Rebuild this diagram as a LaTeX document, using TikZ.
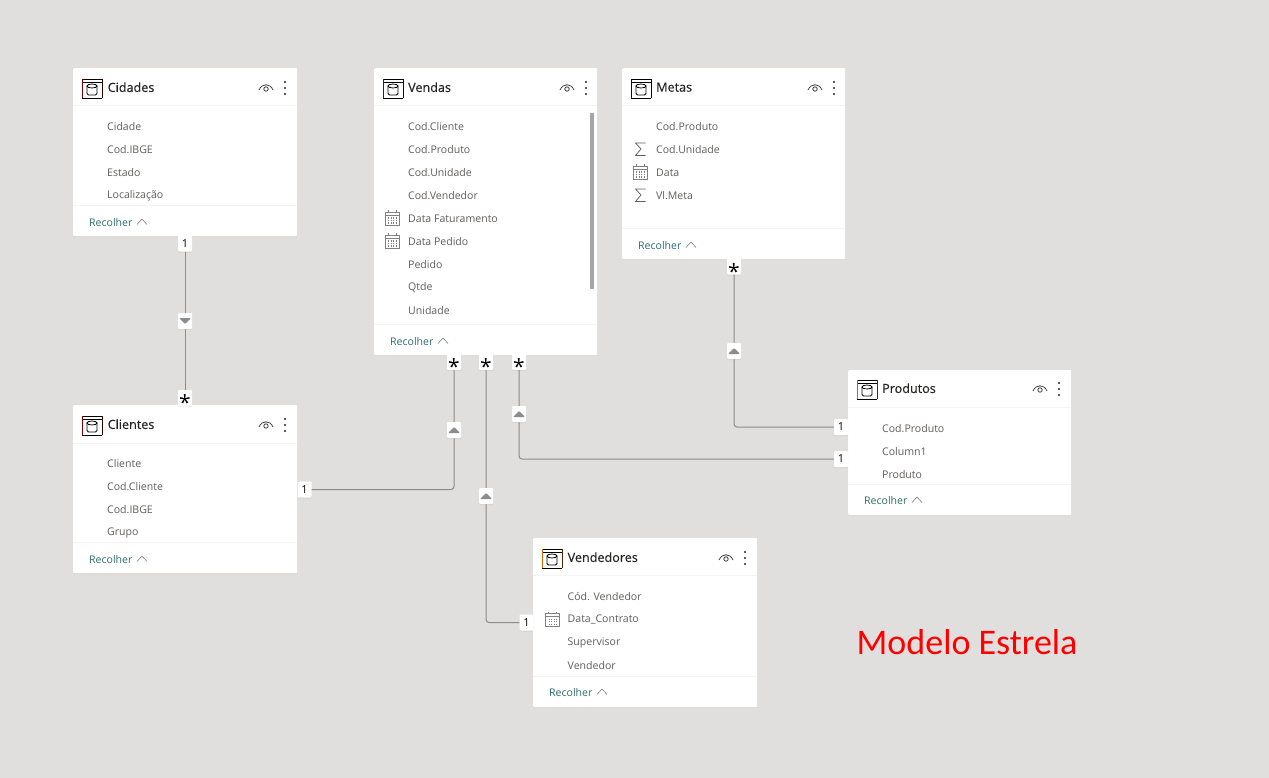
\documentclass[tikz,border=0pt]{standalone}
\usepackage{fontspec}
\setmainfont{Open Sans}
\newfontfamily\titlefont[FakeBold=0.3]{Open Sans}
\newfontfamily\notefont{Carlito}
\usetikzlibrary{shadows}
\definecolor{canvas}{HTML}{E1DFDD}
\definecolor{fieldtext}{HTML}{605E5C}
\definecolor{titletext}{HTML}{252423}
\definecolor{foldtext}{HTML}{2F6B70}
\definecolor{linkgray}{HTML}{8C8C8C}
\tikzset{
  card/.style={draw=none,fill=white,rounded corners=1pt,anchor=north west,inner sep=0pt,
    drop shadow={shadow xshift=0pt,shadow yshift=-1pt,opacity=0.08}},
  rule/.style={draw=canvas!35!white,line width=0.7pt},
  title/.style={anchor=west,inner sep=0pt,text=titletext,font=\titlefont\fontsize{12.6}{14}\selectfont},
  field/.style={anchor=west,inner sep=0pt,text=fieldtext,font=\fontsize{10.55}{12}\selectfont},
  fold/.style={anchor=west,inner sep=0pt,text=foldtext,font=\fontsize{10.55}{12}\selectfont},
  badge/.style={fill=white,inner sep=0pt,minimum width=14pt,minimum height=16pt,rounded corners=1pt,
    text=black,font=\fontsize{11}{12}\selectfont,
    drop shadow={shadow xshift=0pt,shadow yshift=-1pt,opacity=0.15}},
  star/.style={badge,font=\fontsize{21}{12}\selectfont},
  midup/.style={badge,path picture={\fill[linkgray] ([xshift=-6pt,yshift=-3pt]path picture bounding box.center)
    -- ([xshift=6pt,yshift=-3pt]path picture bounding box.center)
    -- ([yshift=3pt]path picture bounding box.center) -- cycle;}},
  middown/.style={badge,path picture={\fill[linkgray] ([xshift=-6pt,yshift=3pt]path picture bounding box.center)
    -- ([xshift=6pt,yshift=3pt]path picture bounding box.center)
    -- ([yshift=-3pt]path picture bounding box.center) -- cycle;}},
  link/.style={draw=linkgray,line width=1pt,rounded corners=3pt},
  pics/tblicon/.style={code={
    \draw[black,line width=0.8pt] (-10,-9) -- (10,-9) (-10,-6) -- (10,-6) (-10,10) -- (10,10);
    \draw[#1,line width=1pt] (-10,-9) -- (-10,10);
    \draw[#1!40!black,line width=0.6pt] (10,-9) -- (10,10);
    \draw[black,line width=0.8pt,rounded corners=1.5pt] (-5,-2) -- (-5,7) -- (5,7) -- (5,-2);
    \draw[black,line width=0.8pt] (0,-2) ellipse (5 and 2);
  }},
  pics/eyeicon/.style={code={
    \draw[#1,line width=0.8pt] (-7,2) .. controls (-4,-5) and (4,-5) .. (7,2);
    \draw[#1,line width=0.8pt] (0,1) circle (2.2);
  }},
  pics/dotsicon/.style={code={
    \foreach \k in {-6,0,6} \fill[titletext] (0,\k) circle (1.1);
  }},
  pics/chevicon/.style={code={
    \draw[gray,line width=0.6pt] (-5,3) -- (0,-2.5) -- (5,3);
  }},
  pics/calicon/.style={code={
    \draw[gray,line width=0.7pt] (-7,-6) rectangle (7,7);
    \draw[gray,line width=0.9pt] (-7,-3) -- (7,-3) (-4,-7.5) -- (-4,-5) (4,-7.5) -- (4,-5);
    \foreach \u in {-4,-1.5,1,3.5} \foreach \v in {-0.5,2,4.5}
      \fill[gray] (\u,\v) rectangle +(1.3,1.3);
  }},
  pics/sumicon/.style={code={
    \draw[fieldtext,line width=0.7pt] (5,-6) -- (-5,-6) -- (0.5,0) -- (-5,6.5) -- (5,6.5);
  }},
}
\newcommand{\manymark}{\raisebox{-12.5pt}[0pt][0pt]{*}}
\begin{document}
\begin{tikzpicture}[x=1pt,y=-1pt]
  \useasboundingbox (0,0) rectangle (1269,778);
  \fill[canvas] (0,0) rectangle (1269,778);

  % tables
  \node[card,minimum width=224pt,minimum height=168pt] (cidades) at (73,68) {};
  \node[card,minimum width=224pt,minimum height=168pt] (clientes) at (73,405) {};
  \node[card,minimum width=223pt,minimum height=287pt] (vendas) at (374,68) {};
  \node[card,minimum width=223pt,minimum height=191pt] (metas) at (622,68) {};
  \node[card,minimum width=223pt,minimum height=145pt] (produtos) at (848,370) {};
  \node[card,minimum width=224pt,minimum height=169pt] (vendedores) at (533,538) {};

  \draw[rule] (73,105) -- (297,105) (73,205.5) -- (297,205.5);
  \draw[rule] (73,443) -- (297,443) (73,542.5) -- (297,542.5);
  \draw[rule] (374,105) -- (597,105) (374,324.5) -- (597,324.5);
  \draw[rule] (622,105) -- (845,105) (622,228.5) -- (845,228.5);
  \draw[rule] (848,407) -- (1071,407) (848,484.5) -- (1071,484.5);
  \draw[rule] (533,575) -- (757,575) (533,676.5) -- (757,676.5);
  \fill[gray!70] (590,113) rectangle (594,289);

  % titles
  \node[title] (cidadesT) at (107.5,87.2) {Cidades};
  \node[title] (clientesT) at (107.5,424.2) {Clientes};
  \node[title] (vendasT) at (408,87.2) {Vendas};
  \node[title] (metasT) at (656,87.2) {Metas};
  \node[title] (produtosT) at (882,388.2) {Produtos};
  \node[title] (vendedoresT) at (567.5,557.2) {Vendedores};

  % header icons
  \pic at (92,88) {tblicon={red!50!black}};
  \pic at (92,425) {tblicon={red!50!black}};
  \pic at (393,88) {tblicon={red!50!black}};
  \pic at (641,88) {tblicon={blue!50!black}};
  \pic at (867,389) {tblicon={orange!80!black}};
  \pic at (552,558) {tblicon={orange!80!black}};
  \foreach \xa/\ya in {266/88,266/425,567/88,815/88,1040/389,726/558} {
    \pic at (\xa,\ya) {eyeicon={fieldtext!70!black}};
    \pic at (\xa+19,\ya) {dotsicon};
  }

  % fields
  \foreach \ya/\name in {126.7/Cidade,149.7/Cod.IBGE,172.7/Estado,195.7/Localização}
    \node[field] (cidades\ya) at (107,\ya) {\name};
  \foreach \ya/\name in {463.7/Cliente,486.7/Cod.Cliente,509.7/Cod.IBGE,532.7/Grupo}
    \node[field] (clientes\ya) at (107,\ya) {\name};
  \foreach \ya/\name in {126.7/Cod.Cliente,149.7/Cod.Produto,172.7/Cod.Unidade,195.7/Cod.Vendedor,218.7/Data Faturamento,241.7/Data Pedido,264.7/Pedido,287.7/Qtde,310.7/Unidade}
    \node[field] (vendas\ya) at (408,\ya) {\name};
  \foreach \ya/\name in {126.7/Cod.Produto,149.7/Cod.Unidade,172.7/Data,195.7/Vl.Meta}
    \node[field] (metas\ya) at (656,\ya) {\name};
  \foreach \ya/\name in {428.2/Cod.Produto,451.7/Column1,474.7/Produto}
    \node[field] (produtos\ya) at (882,\ya) {\name};
  \foreach \ya/\name in {596.2/Cód. Vendedor,619.7/Data\_Contrato,642.7/Supervisor,665.7/Vendedor}
    \node[field] (vendedores\ya) at (567.5,\ya) {\name};

  % field icons
  \pic at (392,218) {calicon};
  \pic at (392,241) {calicon};
  \pic at (640,172) {calicon};
  \pic at (552.5,619) {calicon};
  \pic at (640.5,149) {sumicon};
  \pic at (640.5,195) {sumicon};

  % fold lines
  \foreach \nm/\xa/\ya in {cidades/89/222.5,clientes/89/559.5,vendas/390/341.5,metas/638/245.5,produtos/864/500.5,vendedores/549/692.5} {
    \node[fold] (\nm Fold) at (\xa,\ya) {Recolher};
    \pic at (\xa+53,\ya-1) {chevicon};
  }

  % cardinality marks
  \node[badge] (cidOne) at (185,243.5) {1};
  \node[star] (cliStar) at (185,398) {\manymark};
  \node[badge] (cliOne) at (304.5,489.5) {1};
  \node[star] (venStarA) at (454,362) {\manymark};
  \node[star] (venStarB) at (486,362) {\manymark};
  \node[star] (venStarC) at (519,362) {\manymark};
  \node[star] (metStar) at (734,266.5) {\manymark};
  \node[badge] (proOneA) at (841,427) {1};
  \node[badge] (proOneB) at (841,459) {1};
  \node[badge] (vedOne) at (526.5,622.5) {1};

  % relations
  \draw[link] (cidOne) -- (cliStar);
  \draw[link] (cliOne) -| (venStarA);
  \draw[link] (venStarB) |- (vedOne);
  \draw[link] (venStarC) |- (proOneB);
  \draw[link] (metStar) |- (proOneA);

  % direction marks
  \node[middown] (cidMid) at (185,321) {};
  \node[midup] (cliMid) at (454,430) {};
  \node[midup] (vedMid) at (486,496) {};
  \node[midup] (proMid) at (519,414) {};
  \node[midup] (metMid) at (734,351) {};

  \node[anchor=west,inner sep=0pt,text=red,font=\notefont\fontsize{36}{42}\selectfont] (note) at (856.5,642) {Modelo Estrela};
\end{tikzpicture}
\end{document}
